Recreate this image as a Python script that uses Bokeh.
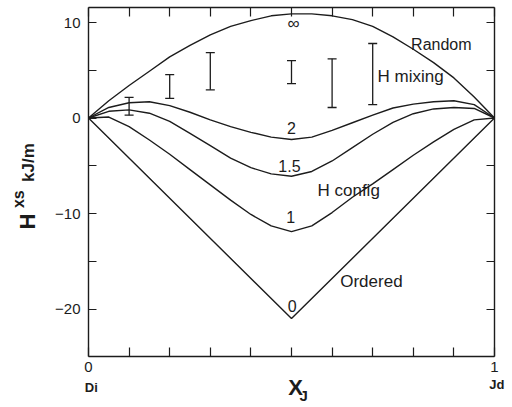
import numpy as np
from bokeh.plotting import figure
from bokeh.models import (Range1d, LinearAxis, FixedTicker, Label, Whisker,
                          ColumnDataSource, TeeHead, CustomJSTickFormatter)
from bokeh.embed import file_html
from bokeh.resources import INLINE

# ---- data ----
x_grid = [0.0, 0.05, 0.1, 0.15, 0.2, 0.25, 0.3, 0.35, 0.4, 0.45, 0.5,
          0.55, 0.6, 0.65, 0.7, 0.75, 0.8, 0.85, 0.9, 0.95, 1.0]
h_random = [0.0, 1.8, 3.4, 4.9, 6.4, 7.6, 8.7, 9.6, 10.2, 10.7, 10.9,
            10.9, 10.7, 10.3, 9.6, 8.5, 7.2, 5.8, 4.2, 2.2, 0.0]
h_2 = [0.0, 1.1, 1.6, 1.7, 1.3, 0.6, -0.2, -0.9, -1.5, -2.0, -2.25,
       -2.0, -1.3, -0.5, 0.3, 1.05, 1.45, 1.7, 1.8, 1.4, 0.0]
h_15 = [0.0, 0.7, 0.85, 0.5, -0.35, -1.6, -2.9, -4.2, -5.2, -5.85, -6.1,
        -5.6, -4.5, -3.1, -1.7, -0.45, 0.45, 0.95, 1.1, 1.0, 0.0]
h_1 = [0.0, 0.1, -0.9, -2.3, -3.8, -5.4, -7.0, -8.6, -10.1, -11.3, -11.9,
       -11.3, -9.9, -8.3, -6.9, -5.4, -3.9, -2.5, -1.2, -0.2, 0.0]
x_ordered = [0.0, 0.5, 1.0]
h_ordered = [0.0, -21.0, 0.0]

bar_x = [0.1, 0.2, 0.3, 0.5, 0.6, 0.7]
bar_lo = [0.3, 2.05, 2.95, 3.6, 1.1, 1.4]
bar_hi = [2.15, 4.55, 6.85, 6.0, 6.2, 7.8]

x_ticks = [0.0, 0.1, 0.2, 0.3, 0.4, 0.5, 0.6, 0.7, 0.8, 0.9, 1.0]
y_ticks = [-20, -15, -10, -5, 0, 5, 10]
x_lim = (0.0, 1.0)
y_lim = (-25.0, 11.55)

INK = "#1c1c1c"
FONT = "Liberation Sans"

W, H = 512, 407
# the data box occupies pixels 88..494 horizontally; y=0 sits at 117.5 px, 9.55 px per unit
px_per_x = 406.0
px_per_y = 9.55
x_range = Range1d(-88.0 / px_per_x, (W - 88.0) / px_per_x)
y_range = Range1d(-(H - 117.5) / px_per_y, 117.5 / px_per_y)

p = figure(width=W, height=H, output_backend="svg", toolbar_location=None,
           x_range=x_range, y_range=y_range, x_axis_type=None, y_axis_type=None,
           min_border=0, background_fill_color="white",
           border_fill_color="white")
p.grid.visible = False
p.outline_line_color = None

xfmt = CustomJSTickFormatter(code="return (Math.abs(tick) < 1e-9 || Math.abs(tick-1) < 1e-9) ? tick.toFixed(0) : '';")
yfmt = CustomJSTickFormatter(code="return (Math.abs(tick % 10) < 1e-9) ? (tick < 0 ? '\u2212' + Math.abs(tick) : String(tick)) : '';")
blank = CustomJSTickFormatter(code="return '';")

def make_axis(ticks, fmt, loc, bounds, show, tick_len, standoff):
    ax = LinearAxis(ticker=FixedTicker(ticks=ticks), formatter=fmt,
                    fixed_location=loc, bounds=bounds)
    ax.axis_line_color = INK
    ax.axis_line_width = 1.4
    ax.major_tick_line_color = INK
    ax.major_tick_line_width = 1.2
    ax.major_tick_in = tick_len
    ax.major_tick_out = 0
    ax.minor_tick_line_color = None
    ax.major_label_text_font = FONT
    ax.major_label_text_color = INK
    ax.major_label_text_font_size = "15px" if show else "0px"
    ax.major_label_standoff = standoff
    return ax

p.add_layout(make_axis(x_ticks, xfmt, y_lim[0], x_lim, True, 9, 5), "below")
p.add_layout(make_axis(x_ticks, blank, y_lim[1], x_lim, False, 9, 0), "above")
p.add_layout(make_axis(y_ticks, yfmt, x_lim[0], y_lim, True, 8, 8), "left")
p.add_layout(make_axis(y_ticks, blank, x_lim[1], y_lim, False, 8, 0), "right")

# curves
lw = 1.4
for ys in (h_random, h_2, h_15, h_1):
    p.line(x_grid, ys, line_color=INK, line_width=lw, line_join="round")
p.line(x_ordered, h_ordered, line_color=INK, line_width=lw)

# H mixing error bars
src = ColumnDataSource(dict(x=bar_x, lo=bar_lo, hi=bar_hi))
p.add_layout(Whisker(source=src, base="x", lower="lo", upper="hi",
                     line_color=INK, line_width=1.3,
                     upper_head=TeeHead(size=9, line_color=INK, line_width=1.3),
                     lower_head=TeeHead(size=9, line_color=INK, line_width=1.3)))

def lab(x, y, t, size="16px", style="normal", align="center", angle=0.0):
    p.add_layout(Label(x=x, y=y, text=t, text_font=FONT, text_font_size=size,
                       text_font_style=style, text_color=INK, text_align=align,
                       text_baseline="middle", angle=angle))

# curve labels
lab(0.505, 9.9, "\u221e", size="17px")
lab(0.869, 7.7, "Random")
lab(0.712, 4.35, "H mixing", size="17px", align="left")
lab(0.5, -1.0, "2")
lab(0.495, -5.0, "1.5")
lab(0.564, -7.6, "H  config", size="17px", align="left")
lab(0.498, -10.4, "1")
lab(0.502, -19.7, "0")
lab(0.62, -17.1, "Ordered", size="17px", align="left")

# end member labels
lab(0.007, -28.2, "Di", size="13px", style="bold")
lab(1.006, -27.9, "Jd", size="13px", style="bold")

# x title X_J
lab(0.51, -28.2, "X", size="22px", style="bold")
lab(0.53, -29.1, "J", size="15px", style="bold")

# y title H^xs kJ/m (rotated)
lab(-0.150, -10.84, "H", size="22px", style="bold", angle=np.pi / 2)
lab(-0.172, -8.5, "xs", size="16px", style="bold", angle=np.pi / 2)
lab(-0.148, -4.66, "kJ/m", size="17px", style="bold", angle=np.pi / 2)

open("out.html", "w").write(file_html(p, INLINE))
